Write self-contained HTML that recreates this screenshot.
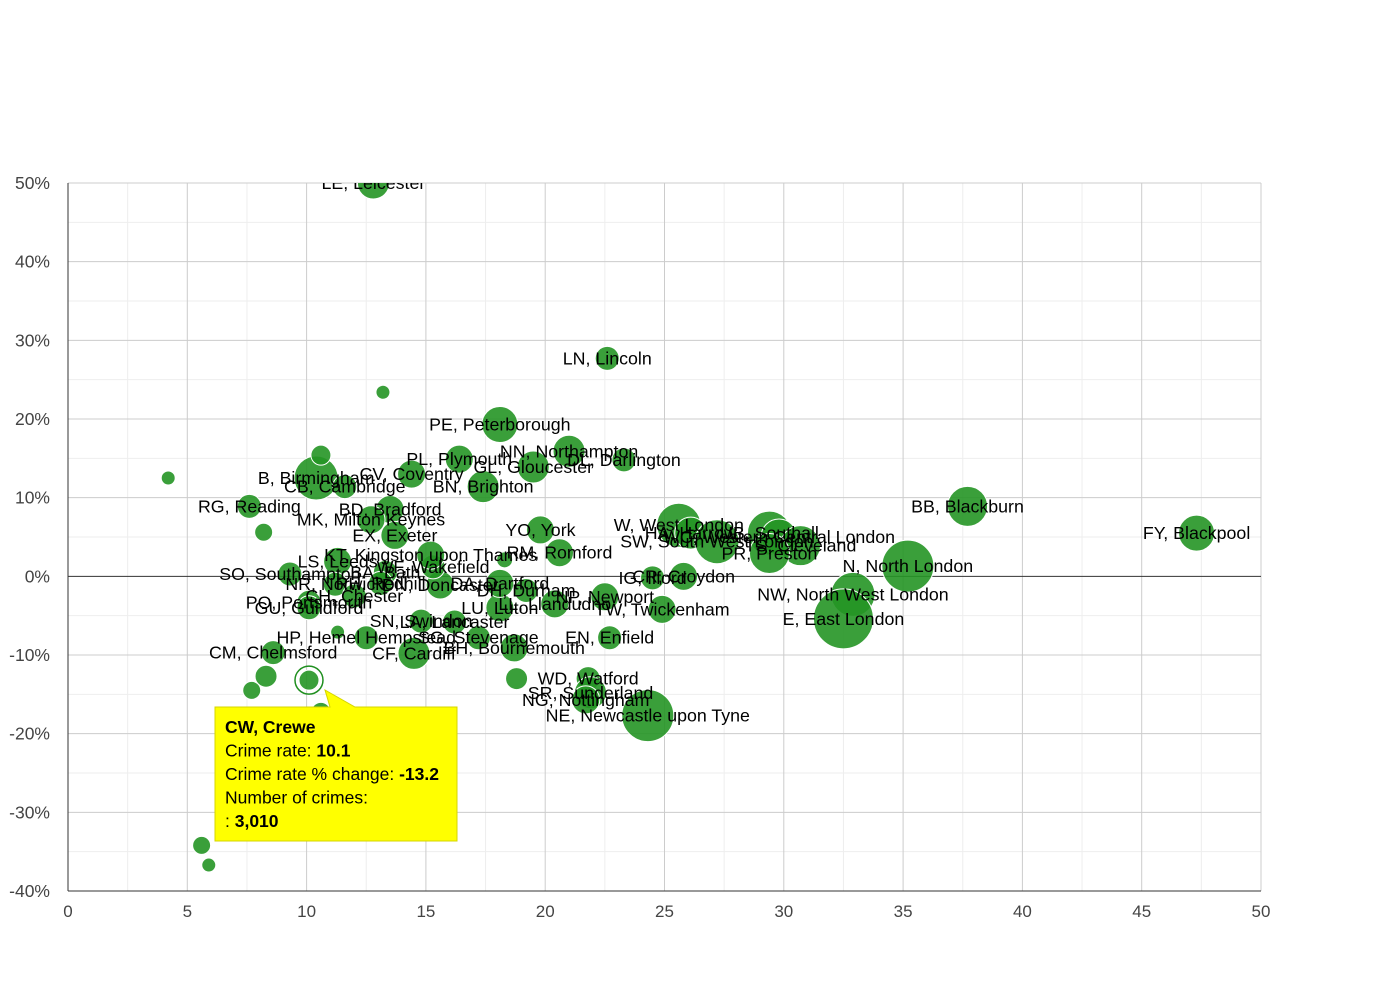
<!DOCTYPE html>
<html><head><meta charset="utf-8"><style>
body{margin:0;background:#fff;font-family:"Liberation Sans",Arial,sans-serif}
svg text{font-family:"Liberation Sans",Arial,sans-serif}
</style></head><body>
<svg id="chart" width="1390" height="980" xmlns="http://www.w3.org/2000/svg">
<defs><clipPath id="plotclip"><rect x="68" y="183" width="1193" height="708"/></clipPath></defs>
<g id="grid"></g>
<g id="axes"></g>
<g id="bubbles" clip-path="url(#plotclip)"></g>
<g id="labels" clip-path="url(#plotclip)"></g>
<g id="tooltip"></g>
</svg>
<script>
const xTicks=[0,5,10,15,20,25,30,35,40,45,50];
const yTicks=[50,40,30,20,10,0,-10,-20,-30,-40];
const yTickLabels=["50%","40%","30%","20%","10%","0%","-10%","-20%","-30%","-40%"];
const names=["LE, Leicester","LN, Lincoln","PE, Peterborough","NN, Northampton","DL, Darlington","PL, Plymouth","GL, Gloucester","BN, Brighton","CV, Coventry","B, Birmingham","CB, Cambridge","RG, Reading","BD, Bradford","MK, Milton Keynes","EX, Exeter","YO, York","RM, Romford","W, West London","HA, Harrow","SW, South West London","UB, Southall","WC, Western Central London","TS, Cleveland","PR, Preston","N, North London","BB, Blackburn","FY, Blackpool","NW, North West London","E, East London","IG, Ilford","CR, Croydon","TW, Twickenham","NP, Newport","LL, Llandudno","EN, Enfield","WD, Watford","SR, Sunderland","NG, Nottingham","NE, Newcastle upon Tyne","DH, Durham","DN, Doncaster","WF, Wakefield","BA, Bath","KT, Kingston upon Thames","LS, Leeds","SO, Southampton","NR, Norwich","RH, Redhill","CH, Chester","PO, Portsmouth","GU, Guildford","SN, Swindon","LA, Lancaster","LU, Luton","DA, Dartford","SG, Stevenage","HP, Hemel Hempstead","CF, Cardiff","BH, Bournemouth","CM, Chelmsford","","","","","","","","","","","","",""];
const crimeRate=[12.8,22.6,18.1,21.0,23.3,16.4,19.5,17.4,14.4,10.4,11.6,7.6,13.5,12.7,13.7,19.8,20.6,25.6,26.1,27.2,29.4,29.8,30.7,29.4,35.2,37.7,47.3,32.9,32.5,24.5,25.8,24.9,22.5,20.4,22.7,21.8,21.9,21.7,24.3,19.2,15.6,15.3,13.3,15.2,11.3,9.3,11.2,13.1,12.0,10.1,10.1,14.8,16.2,18.1,18.1,17.2,12.5,14.5,18.7,8.6,10.1,4.2,13.2,10.6,8.2,7.7,8.3,5.6,5.9,10.6,18.8,11.3,18.3];
const rateChange=[50,27.7,19.3,15.9,14.8,14.9,13.9,11.4,13.0,12.5,11.4,8.9,8.5,7.2,5.2,5.9,3.0,6.5,5.5,4.4,5.5,5.0,3.9,2.9,1.3,8.9,5.5,-2.3,-5.4,-0.2,0,-4.2,-2.6,-3.5,-7.8,-13,-14.8,-15.7,-17.7,-1.8,-1.1,1.2,0.5,2.7,1.9,0.3,-1,-0.9,-2.5,-3.3,-4.0,-5.7,-5.8,-4.0,-0.9,-7.8,-7.8,-9.8,-9.1,-9.7,-13.2,12.5,23.4,15.4,5.6,-14.5,-12.7,-34.2,-36.7,-17.3,-13,-7.1,2.1];
const crimes=[16,12,18,16,12,14,16,16,14,22,12,12,14,14,14,14,14,22,16,22,22,18,20,20,26,20,18,22,30,12,14,14,14,14,12,12,16,14,26,12,14,12,12,14,14,12,12,12,12,12,12,12,12,14,14,12,12,16,14,12,10,7,7,10,9,9,11,9,7,10,11,7,8];
const L=68,R=1261,T=183,B=891;
const sx=v=>L+(v-0)/(50-0)*(R-L);
const sy=v=>T+(50-v)/(90)*(B-T);
const NS="http://www.w3.org/2000/svg";
function mk(tag,attrs,parent,txt){const e=document.createElementNS(NS,tag);for(const k in attrs)e.setAttribute(k,attrs[k]);if(txt!==undefined)e.textContent=txt;parent.appendChild(e);return e;}
const grid=document.getElementById('grid'),axes=document.getElementById('axes');
for(let v=2.5;v<50;v+=5){const l=mk('line',{x1:sx(v),x2:sx(v),y1:T,y2:B,stroke:'#eeeeee'},grid);}
for(let v=45;v>-40;v-=10){const l=mk('line',{x1:L,x2:R,y1:sy(v),y2:sy(v),stroke:'#eeeeee'},grid);}
xTicks.forEach(v=>{const l=mk('line',{x1:sx(v),x2:sx(v),y1:T,y2:B,stroke:'#cccccc'},grid);
const t=mk('text',{x:sx(v),y:B+26,'text-anchor':'middle','font-size':17,fill:'#444'},axes,String(v));});
yTicks.forEach((v,i)=>{const l=mk('line',{x1:L,x2:R,y1:sy(v),y2:sy(v),stroke:v===0?'#333':'#cccccc'},grid);
const t=mk('text',{x:L-18,y:sy(v)+6,'text-anchor':'end','font-size':17.5,fill:'#444'},axes,yTickLabels[i]);});
let a=mk('line',{x1:L,x2:L,y1:T,y2:B,stroke:'#333'},axes);
a=mk('line',{x1:L,x2:R,y1:B,y2:B,stroke:'#333'},axes);
const bub=document.getElementById('bubbles'),lab=document.getElementById('labels');
crimeRate.forEach((v,i)=>{const c=mk('circle',{cx:sx(v),cy:sy(rateChange[i]),r:crimes[i],fill:'#259525','fill-opacity':0.9,stroke:'#fff','stroke-width':1},bub);

if(names[i]){const t=mk('text',{x:sx(v),y:sy(rateChange[i])+6,'text-anchor':'middle','font-size':17.8,fill:'#000'},lab,names[i]);}});
const ci=60;
let h=mk('circle',{cx:sx(crimeRate[ci]),cy:sy(rateChange[ci]),r:14,fill:'none',stroke:'#1f8f1f','stroke-width':1.5},bub);
const tip=document.getElementById('tooltip');
let p=mk('path',{d:'M215 707 L330 707 L325 690 L355 707 L457 707 L457 841 L215 841 Z',fill:'#ffff00',stroke:'#d4d400','stroke-width':1},tip);
const lines=[[["CW, Crewe",true]],[["Crime rate: ",false],["10.1",true]],[["Crime rate % change: ",false],["-13.2",true]],[["Number of crimes:",false]],[[": ",false],["3,010",true]]];
lines.forEach((ln,k)=>{const t=mk('text',{x:225,y:733+k*23.5,'font-size':17.5,fill:'#000'},tip);
ln.forEach(s=>{mk('tspan',{'font-weight':s[1]?'bold':'normal'},t,s[0]);});});
</script>
</body></html>
